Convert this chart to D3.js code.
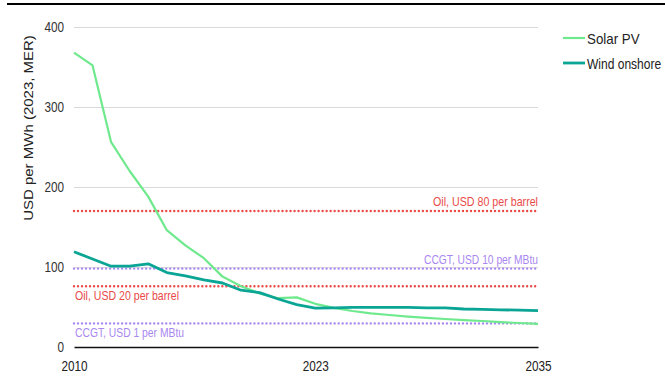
<!DOCTYPE html>
<html><head><meta charset="utf-8">
<script src="https://cdn.jsdelivr.net/npm/d3@7"></script>
<style>html,body{margin:0;padding:0;background:#fff;}svg{display:block;}</style>
</head><body>
<svg id="c" width="665" height="387"></svg>
<script>
const years = d3.range(2010, 2036);
const solarPV = [368, 352, 256, 220, 188, 146, 127, 111, 88, 76, 67, 61, 62, 54, 49, 45, 42, 40, 38, 36.5, 35, 33.5, 32.5, 31, 30, 29];
const windOnshore = [119, 110, 101, 101, 104, 93, 89, 84, 80, 71, 68, 60, 53, 48.5, 49, 49.5, 49.5, 49.5, 49.5, 49, 49, 47.5, 47, 46.5, 46, 45.5];
const refNames = ["Oil, USD 80 per barrel", "CCGT, USD 10 per MBtu", "Oil, USD 20 per barrel", "CCGT, USD 1 per MBtu"];
const refValues = [170, 98, 76, 29.5];
const yTicks = [0, 100, 200, 300, 400];
const xTicks = [2010, 2023, 2035];
const seriesNames = ["Solar PV", "Wind onshore"];

const svg = d3.select("#c");
const x = d3.scaleLinear().domain([2010, 2035]).range([74, 538]);
const y = d3.scaleLinear().domain([0, 400]).range([347, 27]);
const font = "'Liberation Sans', Arial, sans-serif";

function condense(sel, f) {
  sel.each(function () {
    const L = this.getComputedTextLength();
    this.setAttribute("textLength", L * f);
    this.setAttribute("lengthAdjust", "spacingAndGlyphs");
  });
}

// top rule
svg.append("line").attr("x1", 7).attr("x2", 665).attr("y1", 4).attr("y2", 4)
  .attr("stroke", "#000").attr("stroke-width", 2);

// gridlines + y ticks
const yAxis = d3.axisLeft(y).tickValues(yTicks).tickSize(-(538 - 74)).tickPadding(10);
const gy = svg.append("g").attr("transform", "translate(74,0)").call(yAxis);
gy.select(".domain").remove();
gy.selectAll(".tick line").attr("stroke", "#d9d9d9").attr("stroke-width", 1)
  .filter(d => d === 0).remove();
gy.selectAll(".tick text").attr("font-family", font).attr("font-size", 14).attr("fill", "#333");
condense(gy.selectAll(".tick text"), 0.84);

// x axis
const xAxis = d3.axisBottom(x).tickValues(xTicks).tickFormat(d3.format("d")).tickSize(0).tickPadding(14);
const gx = svg.append("g").attr("transform", "translate(0,347)").call(xAxis);
gx.select(".domain").attr("stroke", "#111").attr("stroke-width", 1.5);
gx.selectAll(".tick text").attr("font-family", font).attr("font-size", 14).attr("fill", "#222");
condense(gx.selectAll(".tick text"), 0.84);

// y title
svg.append("text").attr("transform", "translate(33,128) scale(0.82,1) rotate(-90)")
  .attr("text-anchor", "middle").attr("font-family", font).attr("font-size", 15).attr("fill", "#222")
  .text("USD per MWh (2023, MER)");

// reference lines
const refColors = ["#ea4a48", "#a987f0", "#ea4a48", "#a987f0"];
const refAnchor = ["end", "end", "start", "start"];
const refWidth = [105, 114, 104, 109];
refValues.forEach((v, i) => {
  svg.append("line").attr("x1", 74).attr("x2", 538).attr("y1", y(v)).attr("y2", y(v))
    .attr("stroke", refColors[i]).attr("stroke-width", 2.4)
    .attr("stroke-dasharray", "0.01,4").attr("stroke-linecap", "round");
  const above = i < 2;
  svg.append("text")
    .attr("x", refAnchor[i] === "end" ? 538 : 75)
    .attr("y", above ? y(v) - 5 : y(v) + 14)
    .attr("text-anchor", refAnchor[i])
    .attr("font-family", font).attr("font-size", 13.5).attr("fill", refColors[i])
    .attr("textLength", refWidth[i]).attr("lengthAdjust", "spacingAndGlyphs")
    .text(refNames[i]);
});

// series
const line = d3.line().x((d, i) => x(years[i])).y(d => y(d));
svg.append("path").datum(solarPV).attr("d", line).attr("fill", "none")
  .attr("stroke", "#6fe98d").attr("stroke-width", 2.2).attr("stroke-linejoin", "round");
svg.append("path").datum(windOnshore).attr("d", line).attr("fill", "none")
  .attr("stroke", "#0ba595").attr("stroke-width", 2.8).attr("stroke-linejoin", "round");

// legend
const legColors = ["#6fe98d", "#0ba595"];
const legW = [2.2, 2.8];
const legScale = [0.92, 0.83];
seriesNames.forEach((n, i) => {
  const ly = 38 + i * 25;
  svg.append("line").attr("x1", 563).attr("x2", 585).attr("y1", ly).attr("y2", ly)
    .attr("stroke", legColors[i]).attr("stroke-width", legW[i]);
  svg.append("text").attr("transform", `translate(587,${ly + 5.5}) scale(${legScale[i]},1)`)
    .attr("font-family", font).attr("font-size", 14.5).attr("fill", "#222").text(n);
});
</script>
</body></html>
